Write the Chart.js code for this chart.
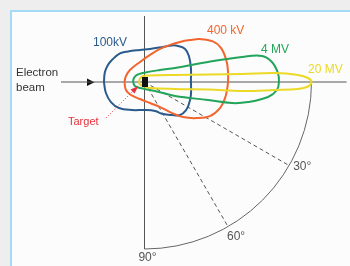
<!DOCTYPE html>
<html>
<head>
<meta charset="utf-8">
<script src="https://cdn.jsdelivr.net/npm/chart.js@4.4.0/dist/chart.umd.min.js"></script>
<style>
  body { margin: 0; background: #eeeeee; }
  #wrap { position: relative; width: 350px; height: 266px; overflow: hidden; }
  #panel {
    position: absolute; left: 10px; top: 10px; width: 400px; height: 300px;
    background: #fbfcfb; border-left: 2px solid #a3dbf5; border-top: 2px solid #a3dbf5;
  }
  canvas { position: absolute; left: 0; top: 0; }
</style>
</head>
<body>
<div id="wrap">
  <div id="panel"></div>
  <canvas id="beamChart" width="350" height="266"></canvas>
</div>
<script>
// Relative X-ray intensity around the target (100 = 20 MV forward peak)
// x = along the beam, y = sideways; each lobe is a closed outline

const kv100X = [-24.3, -23.7, -21.9, -19.5, -14.7, -9.9, -2.7, 3.3, 11.1, 16.5, 20.1, 24.3, 26.6, 27.8, 27.8, 27.8, 26.6, 24.9, 21.3, 16.5, 11.1, 6.3, 0.3, -7.5, -15.3, -20.1, -23.1];
const kv100Y = [0, 6.0, 10.2, 13.2, 17.1, 18.3, 19.2, 19.8, 21.0, 21.9, 21.6, 19.8, 15.6, 8.4, 1.2, -7.8, -13.2, -16.8, -19.8, -19.8, -19.2, -17.4, -16.8, -16.8, -15.6, -12.0, -6.6];

const kv400X = [-12.0, -11.1, -8.7, -2.7, 3.3, 9.3, 15.3, 21.3, 27.2, 33.2, 41.0, 45.8, 49.1, 50.0, 50.0, 49.4, 48.2, 45.2, 39.2, 31.4, 23.1, 15.3, 9.3, 3.3, -2.7, -8.1, -11.1];
const kv400Y = [0, 3.6, 7.2, 12.0, 16.2, 19.8, 22.2, 24.0, 25.1, 25.7, 24.3, 20.4, 12.6, 6.0, 0, -4.8, -9.6, -15.6, -20.4, -21.6, -21.0, -18.0, -15.0, -12.6, -10.2, -7.8, -4.8];

const mv4X = [-6.9, -6.3, -4.5, -0.9, 9.3, 18.3, 38.0, 58.4, 70.4, 76.3, 79.9, 80.5, 79.3, 74.0, 62.0, 52.4, 38.0, 18.3, 11.1, 3.3, -2.7, -5.7];
const mv4Y = [0, 2.4, 4.2, 5.4, 7.2, 8.4, 12.0, 15.0, 15.6, 12.0, 5.4, 0, -4.8, -9.0, -12.0, -12.6, -10.8, -8.4, -6.6, -4.8, -3.6, -2.4];

const mv20X = [-3.3, -2.7, -0.9, 3.3, 18.3, 58.4, 78.1, 91.9, 97.9, 100, 97.9, 91.9, 78.1, 58.4, 38.0, 18.3, 3.3, -0.9, -2.7];
const mv20Y = [0, 2.1, 3.6, 3.9, 4.2, 4.8, 5.4, 4.2, 2.4, 0, -2.7, -4.2, -4.8, -5.4, -4.5, -4.2, -3.6, -2.4, -1.5];

const lobeLabels = ['100kV', '400 kV', '4 MV', '20 MV'];
const angleTicks = [30, 60, 90];
const beamAxisRange = [-50, 121];
const sideAxisRange = [-100, 39.5];
const arcRadius = 100;

const lobeColors = ['#2a5b8c', '#f2652e', '#22a55a', '#ecd926'];
const fontFamily = '"Liberation Sans", Arial, sans-serif';

function closedOutline(xs, ys) {
    const pts = xs.map((x, i) => ({ x: x, y: ys[i] }));
    pts.push({ x: xs[0], y: ys[0] });
    return pts;
}

function lobeDataset(label, xs, ys, color) {
    return {
        label: label,
        data: closedOutline(xs, ys),
        showLine: true,
        borderColor: color,
        borderWidth: 2,
        pointRadius: 0,
        tension: 0.4,
        fill: false,
        order: 1
    };
}

const guideColor = '#555555';

// radial dashed lines at 30 and 60 degrees below the beam
const radialSets = angleTicks.filter(a => a < 90).map(a => ({
    data: [
        { x: 0, y: 0 },
        { x: arcRadius * Math.cos(a * Math.PI / 180), y: -arcRadius * Math.sin(a * Math.PI / 180) }
    ],
    showLine: true,
    borderColor: guideColor,
    borderWidth: 1,
    borderDash: [4, 3],
    pointRadius: 0,
    order: 3
}));

const axisSets = [
    { data: [{ x: beamAxisRange[0], y: 0 }, { x: beamAxisRange[1], y: 0 }] },
    { data: [{ x: 0, y: sideAxisRange[1] }, { x: 0, y: sideAxisRange[0] }] }
].map(d => Object.assign(d, {
    showLine: true, borderColor: guideColor, borderWidth: 1, pointRadius: 0, order: 4
}));

const decorPlugin = {
    id: 'beamDecor',
    beforeDatasetsDraw(chart) {
        const ctx = chart.ctx;
        const xs = chart.scales.x, ys = chart.scales.y;
        const cx = xs.getPixelForValue(0), cy = ys.getPixelForValue(0);
        const r = xs.getPixelForValue(arcRadius) - cx;
        ctx.save();
        ctx.strokeStyle = '#666666';
        ctx.lineWidth = 1;
        ctx.beginPath();
        ctx.arc(cx, cy, r, 0, Math.PI / 2);
        ctx.stroke();

        // beam arrowhead
        ctx.fillStyle = '#111111';
        ctx.beginPath();
        ctx.moveTo(87, 78.5);
        ctx.lineTo(94.5, 82.2);
        ctx.lineTo(87, 86);
        ctx.closePath();
        ctx.fill();
        ctx.restore();
    },
    afterDatasetsDraw(chart) {
        const ctx = chart.ctx;
        const xs = chart.scales.x, ys = chart.scales.y;
        const cx = xs.getPixelForValue(0), cy = ys.getPixelForValue(0);
        const r = xs.getPixelForValue(arcRadius) - cx;
        ctx.save();

        // target block
        ctx.fillStyle = '#111111';
        ctx.fillRect(cx - 2.5, cy - 5, 6, 10);

        // pointer from the "Target" label
        ctx.strokeStyle = '#e8323e';
        ctx.lineWidth = 1;
        ctx.setLineDash([1, 2]);
        ctx.beginPath();
        ctx.moveTo(106, 118);
        ctx.lineTo(133, 91);
        ctx.stroke();
        ctx.setLineDash([]);
        ctx.fillStyle = '#e8323e';
        ctx.beginPath();
        ctx.moveTo(138.5, 86);
        ctx.lineTo(130.5, 89.5);
        ctx.lineTo(134.5, 93.5);
        ctx.closePath();
        ctx.fill();

        ctx.textBaseline = 'middle';
        ctx.textAlign = 'left';

        // lobe names
        ctx.font = '12px ' + fontFamily;
        const labelSpots = [[93, 43], [207, 31], [261, 50], [308, 70]];
        lobeLabels.forEach((t, i) => {
            ctx.fillStyle = lobeColors[i];
            ctx.fillText(t, labelSpots[i][0], labelSpots[i][1]);
        });

        ctx.font = '11.5px ' + fontFamily;
        ctx.fillStyle = '#333333';
        ctx.fillText('Electron', 16, 73);
        ctx.fillText('beam', 16, 88);

        ctx.font = '11px ' + fontFamily;
        ctx.fillStyle = '#e8323e';
        ctx.fillText('Target', 68, 122);

        // angle labels along the arc
        ctx.font = '12px ' + fontFamily;
        ctx.fillStyle = '#555555';
        const offs = [[4, 1, 'left'], [-1, 10, 'left'], [3, 9, 'center']];
        angleTicks.forEach((a, i) => {
            const rad = a * Math.PI / 180;
            const px = cx + r * Math.cos(rad), py = cy + r * Math.sin(rad);
            ctx.textAlign = offs[i][2];
            ctx.fillText(a + '°', px + offs[i][0], py + offs[i][1]);
        });
        ctx.restore();
    }
};

// scale so that the canvas maps 1.67 px per unit with the target at (144.5, 82)
const pxPerUnit = 1.67;
const originPx = [144.5, 82];

new Chart(document.getElementById('beamChart'), {
    type: 'scatter',
    data: {
        datasets: [
            lobeDataset(lobeLabels[3], mv20X, mv20Y, lobeColors[3]),
            lobeDataset(lobeLabels[2], mv4X, mv4Y, lobeColors[2]),
            lobeDataset(lobeLabels[1], kv400X, kv400Y, lobeColors[1]),
            lobeDataset(lobeLabels[0], kv100X, kv100Y, lobeColors[0])
        ].concat(radialSets, axisSets)
    },
    options: {
        responsive: false,
        animation: false,
        layout: { padding: 0 },
        plugins: {
            legend: { display: false },
            tooltip: { enabled: false }
        },
        scales: {
            x: {
                type: 'linear', display: false,
                min: -originPx[0] / pxPerUnit,
                max: (350 - originPx[0]) / pxPerUnit
            },
            y: {
                type: 'linear', display: false,
                min: -(266 - originPx[1]) / pxPerUnit,
                max: originPx[1] / pxPerUnit
            }
        }
    },
    plugins: [decorPlugin]
});
</script>
</body>
</html>
